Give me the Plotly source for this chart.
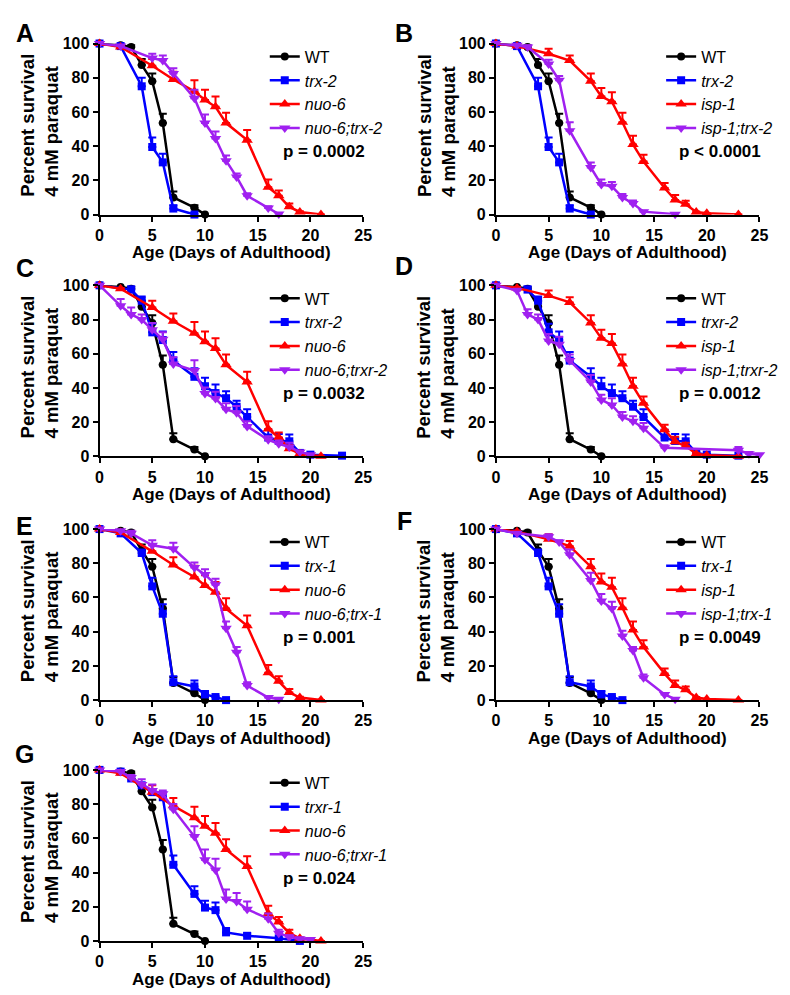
import plotly.graph_objects as go

# ---------------- data ----------------
wt_days = [0, 2, 3, 4, 5, 6, 7, 9, 10]
wt_vals = [100, 99, 98, 87.5, 78, 53.5, 10, 4, 0]
wt_err = [0, 0, 1, 3.5, 4.5, 5.5, 3.5, 1.5, 0]

trx2_days = [0, 2, 4, 5, 6, 7, 9]
trx2_vals = [100, 98.5, 75, 39.5, 30.5, 3.5, 0]
trx2_err = [0, 0.5, 5, 5.5, 5, 2, 0]

nuo6_days = [0, 2, 5, 7, 9, 10, 11, 12, 14, 16, 17, 18, 19, 21]
nuo6_vals = [100, 98, 87, 79, 72, 67, 63, 53.5, 43.5, 16, 11, 4.5, 1.5, 0]
nuo6_err = [0, 0.5, 4, 4.5, 6.5, 6, 6, 6, 6, 4.5, 3, 2, 0.5, 0]

isp1_days = [0, 2, 5, 7, 9, 10, 11, 12, 13, 14, 16, 17, 18, 19, 20, 23]
isp1_vals = [100, 98.5, 94, 90, 78, 69, 66, 54, 41, 31, 15.5, 8.5, 6, 1.5, 0.7, 0]
isp1_err = [0, 0.5, 3, 3, 4.5, 5, 5.5, 5.5, 5, 4, 3, 3, 2, 0.3, 0, 0]

nuo6_trx2_days = [0, 2, 5, 6, 7, 9, 10, 11, 12, 13, 14, 16, 17]
nuo6_trx2_vals = [100, 98.5, 91.5, 90, 82.5, 68, 53.5, 44.5, 31.5, 22, 11, 3.8, 0.3]
nuo6_trx2_err = [0, 0.5, 2.5, 3, 3, 5, 5, 4, 3, 2, 1.5, 1, 0]

isp1_trx2_days = [0, 2, 3, 5, 6, 7, 9, 10, 11, 12, 13, 14, 17]
isp1_trx2_vals = [100, 99, 98, 88, 78.5, 49, 27.5, 17.5, 16.5, 10, 6.5, 1.7, 0.2]
isp1_trx2_err = [0, 0.5, 1, 2.5, 2.5, 5, 3, 3, 2.5, 2, 1.7, 0.5, 0]

trxr2_days = [0, 3, 4, 5, 6, 7, 9, 10, 11, 12, 13, 14, 16, 17, 18, 19, 20, 23]
trxr2_vals = [100, 97.5, 91, 72.5, 68, 56, 46.5, 41, 37, 34, 29, 23, 11, 9, 8.8, 2, 1, 0.4]
trxr2_err = [0, 2, 2.5, 5, 5, 5, 5, 5, 5, 4, 3.5, 4.5, 4.5, 4, 4, 0.5, 0.3, 0]

nuo6_trxr2_days = [0, 2, 3, 4, 5, 6, 7, 9, 10, 11, 12, 13, 14, 16, 17, 18, 19, 20]
nuo6_trxr2_vals = [100, 88, 83, 80, 74, 68.5, 54, 50.2, 36.7, 33.8, 27.5, 25.5, 17.5, 9.7, 7.3, 5.5, 2.5, 1]
nuo6_trxr2_err = [0, 4, 4, 3, 4, 4, 4, 6, 3.5, 4, 3.5, 4, 3, 2, 2, 2.5, 0.5, 0.3]

isp1_trxr2_days = [0, 2, 3, 4, 5, 6, 7, 9, 10, 11, 12, 13, 14, 16, 23, 24, 25]
isp1_trxr2_vals = [100, 97, 83, 80, 67.5, 65.5, 56, 43.5, 33, 30, 23, 20.5, 16.5, 5, 3.5, 1.5, 1]
isp1_trxr2_err = [0, 1, 3, 3, 4, 4.5, 3.5, 4, 3, 4, 3, 3, 3, 1.5, 2, 1, 0]

trx1_days = [0, 2, 4, 5, 6, 7, 9, 10, 11, 12]
trx1_vals = [100, 97.5, 86, 66.5, 50.5, 10.5, 8, 3.3, 1.8, 0]
trx1_err = [0, 1, 2, 5, 5.5, 3.5, 3.5, 2, 0.5, 0]

nuo6_trx1_days = [0, 2, 3, 5, 7, 9, 10, 11, 12, 13, 14, 16, 17]
nuo6_trx1_vals = [100, 99, 97.5, 90.5, 88.5, 77.5, 73.5, 67.5, 42, 28, 8.5, 1.5, 0.5]
nuo6_trx1_err = [0, 0.5, 1.5, 3, 3.5, 3, 3, 3.5, 4, 3, 2, 0.5, 0]

isp1_trx1_days = [0, 2, 5, 6, 7, 9, 10, 11, 12, 13, 14, 16, 17]
isp1_trx1_vals = [100, 97.5, 95.5, 92.5, 85, 70, 58, 53.5, 37.5, 29, 13, 3.3, 0.5]
isp1_trx1_err = [0, 0.5, 1.5, 1, 3, 4.5, 4, 4, 3, 2, 2, 0.5, 0]

trxr1_days = [0, 2, 3, 4, 5, 6, 7, 9, 10, 11, 12, 14, 17, 19]
trxr1_vals = [100, 99, 95, 91, 87, 84, 44.5, 27.5, 19.5, 18, 5, 3, 1.5, 0]
trxr1_err = [0, 0.5, 1.5, 1, 1.5, 3, 5.5, 4.5, 4, 4.5, 2.5, 1.5, 0.5, 0]

nuo6_trxr1_days = [0, 2, 3, 4, 5, 6, 7, 9, 10, 11, 12, 13, 14, 16, 17, 18, 19, 20]
nuo6_trxr1_vals = [100, 99, 95.5, 91.5, 88, 86, 77, 61, 47.5, 41.5, 24.5, 23, 18.5, 13, 4.5, 2.3, 1.3, 0.8]
nuo6_trxr1_err = [0, 0.5, 1.5, 3, 3.5, 2, 3, 6, 6, 6.5, 5.5, 5, 4.5, 3, 2, 1, 0.5, 0]

x_ticks = [0, 5, 10, 15, 20, 25]
y_ticks = [0, 20, 40, 60, 80, 100]
x_title = "Age (Days of Adulthood)"
y_title = "Percent survival<br>4 mM paraquat"

# ---------------- styling ----------------
FONT = "Liberation Sans, Arial, sans-serif"
W, H = 790, 995
BLACK, BLUE, RED, PURPLE = "#000000", "#0000FF", "#FF0000", "#A020F0"
STYLE = {
    "wt": (BLACK, "circle", 8),
    "blue": (BLUE, "square", 8),
    "red": (RED, "triangle-up", 10),
    "purple": (PURPLE, "triangle-down", 10),
}

WT = ("WT", wt_days, wt_vals, wt_err, "wt")
panels = [
    dict(letter="A", col=0, row=0, p="p = 0.0002", series=[
        WT, ("<i>trx-2</i>", trx2_days, trx2_vals, trx2_err, "blue"),
        ("<i>nuo-6</i>", nuo6_days, nuo6_vals, nuo6_err, "red"),
        ("<i>nuo-6;trx-2</i>", nuo6_trx2_days, nuo6_trx2_vals, nuo6_trx2_err, "purple")]),
    dict(letter="B", col=1, row=0, p="p < 0.0001", series=[
        WT, ("<i>trx-2</i>", trx2_days, trx2_vals, trx2_err, "blue"),
        ("<i>isp-1</i>", isp1_days, isp1_vals, isp1_err, "red"),
        ("<i>isp-1;trx-2</i>", isp1_trx2_days, isp1_trx2_vals, isp1_trx2_err, "purple")]),
    dict(letter="C", col=0, row=1, p="p = 0.0032", series=[
        WT, ("<i>trxr-2</i>", trxr2_days, trxr2_vals, trxr2_err, "blue"),
        ("<i>nuo-6</i>", nuo6_days, nuo6_vals, nuo6_err, "red"),
        ("<i>nuo-6;trxr-2</i>", nuo6_trxr2_days, nuo6_trxr2_vals, nuo6_trxr2_err, "purple")]),
    dict(letter="D", col=1, row=1, p="p = 0.0012", series=[
        WT, ("<i>trxr-2</i>", trxr2_days, trxr2_vals, trxr2_err, "blue"),
        ("<i>isp-1</i>", isp1_days, isp1_vals, isp1_err, "red"),
        ("<i>isp-1;trxr-2</i>", isp1_trxr2_days, isp1_trxr2_vals, isp1_trxr2_err, "purple")]),
    dict(letter="E", col=0, row=2, p="p = 0.001", series=[
        WT, ("<i>trx-1</i>", trx1_days, trx1_vals, trx1_err, "blue"),
        ("<i>nuo-6</i>", nuo6_days, nuo6_vals, nuo6_err, "red"),
        ("<i>nuo-6;trx-1</i>", nuo6_trx1_days, nuo6_trx1_vals, nuo6_trx1_err, "purple")]),
    dict(letter="F", col=1, row=2, p="p = 0.0049", series=[
        WT, ("<i>trx-1</i>", trx1_days, trx1_vals, trx1_err, "blue"),
        ("<i>isp-1</i>", isp1_days, isp1_vals, isp1_err, "red"),
        ("<i>isp-1;trx-1</i>", isp1_trx1_days, isp1_trx1_vals, isp1_trx1_err, "purple")]),
    dict(letter="G", col=0, row=3, p="p = 0.024", series=[
        WT, ("<i>trxr-1</i>", trxr1_days, trxr1_vals, trxr1_err, "blue"),
        ("<i>nuo-6</i>", nuo6_days, nuo6_vals, nuo6_err, "red"),
        ("<i>nuo-6;trxr-1</i>", nuo6_trxr1_days, nuo6_trxr1_vals, nuo6_trxr1_err, "purple")]),
]

# layout geometry (pixels)
COL_X = [(89, 357), (492, 760)]
ROW_TOP = [28, 274, 522, 767]
PLOT_H = 174
LETTER_POS = {"A": (13, 17), "B": (399, 17), "C": (13, 256), "D": (399, 254),
              "E": (13, 519), "F": (399, 514), "G": (13, 751)}


def px(x):
    return x / W


def py(y):
    return 1 - y / H


fig = go.Figure()
layout = dict(
    width=W, height=H, autosize=False,
    margin=dict(l=0, r=0, t=0, b=0),
    paper_bgcolor="white", plot_bgcolor="white",
    font=dict(family=FONT, color="black"),
    showlegend=True,
)
annotations = []

for i, pnl in enumerate(panels):
    n = i + 1
    xa = "x" if n == 1 else f"x{n}"
    ya = "y" if n == 1 else f"y{n}"
    lg = "legend" if n == 1 else f"legend{n}"
    x0, x1 = COL_X[pnl["col"]]
    top = ROW_TOP[pnl["row"]]
    bot = top + PLOT_H

    for name, d, v, e, key in pnl["series"]:
        color, sym, size = STYLE[key]
        fig.add_trace(go.Scatter(
            x=d, y=v, name=name, mode="lines+markers",
            xaxis=xa, yaxis=ya, legend=lg, cliponaxis=False,
            line=dict(color=color, width=2.5),
            marker=dict(color=color, symbol=sym, size=size, line=dict(width=0)),
            error_y=dict(type="data", symmetric=False, array=e,
                         arrayminus=[0] * len(e), color=color,
                         thickness=2, width=4),
        ))

    axis_common = dict(showline=True, linewidth=2, linecolor="black",
                       ticks="outside", ticklen=5, tickwidth=2, tickcolor="black",
                       showgrid=False, zeroline=False, fixedrange=True,
                       tickfont=dict(family=FONT, size=16, color="black", weight="bold"))
    layout["xaxis" if n == 1 else f"xaxis{n}"] = dict(
        axis_common, domain=[px(x0), px(x1)], range=[0, 25],
        tickvals=x_ticks, anchor=ya)
    layout["yaxis" if n == 1 else f"yaxis{n}"] = dict(
        axis_common, domain=[py(bot), py(top)], range=[0, 100],
        tickvals=y_ticks, anchor=xa)

    layout[lg] = dict(
        x=px(x0 + 168), y=py(top - 4), xanchor="left", yanchor="top",
        bgcolor="rgba(0,0,0,0)", borderwidth=0, tracegroupgap=0,
        itemwidth=30, itemclick=False, itemdoubleclick=False,
        font=dict(family=FONT, size=16, color="black"))

    # p-value
    annotations.append(dict(
        text=f"<b>{pnl['p']}</b>", x=px(x0 + 184), y=py(top + 110),
        xref="paper", yref="paper", xanchor="left", yanchor="middle",
        showarrow=False, font=dict(family=FONT, size=17, color="black")))
    # x title
    annotations.append(dict(
        text=f"<b>{x_title}</b>", x=px((x0 + x1) / 2), y=py(bot + 39),
        xref="paper", yref="paper", xanchor="center", yanchor="middle",
        showarrow=False, font=dict(family=FONT, size=17, color="black")))
    # y title
    annotations.append(dict(
        text=f"<b>{y_title}</b>", x=px(x0 - 61), y=py(top + 83),
        xref="paper", yref="paper", xanchor="center", yanchor="middle",
        textangle=-90, align="left",
        showarrow=False, font=dict(family=FONT, size=18.5, color="black")))
    # panel letter
    lx, ly = LETTER_POS[pnl["letter"]]
    annotations.append(dict(
        text=f"<b>{pnl['letter']}</b>", x=px(lx), y=py(ly),
        xref="paper", yref="paper", xanchor="center", yanchor="middle",
        showarrow=False, font=dict(family=FONT, size=25, color="black")))

layout["annotations"] = annotations
fig.update_layout(**layout)
fig.write_html("out.html")
